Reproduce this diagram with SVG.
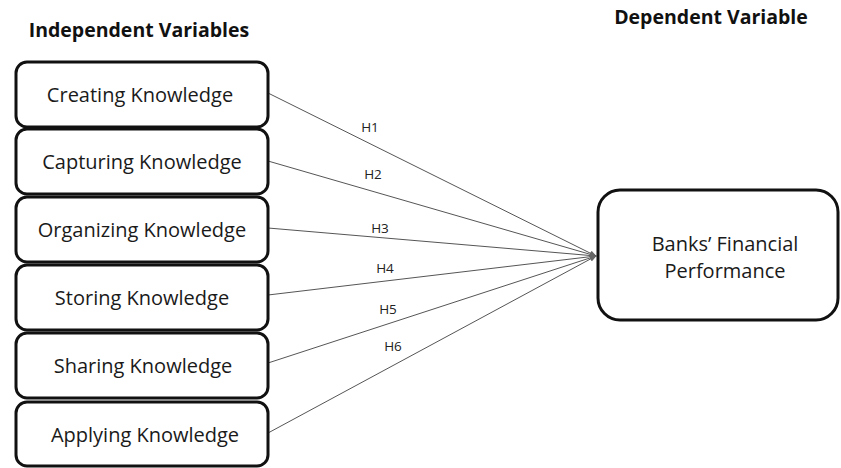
<svg xmlns="http://www.w3.org/2000/svg" width="841" height="468" viewBox="0 0 841 468">
<style>
.box{fill:#fff;stroke:#111;stroke-width:3}
.t{font-family:"Open Sans","Liberation Sans",sans-serif;font-size:20px;fill:#1a1a1a;text-anchor:middle}
.h{font-family:"Open Sans","Liberation Sans",sans-serif;font-size:19.5px;font-weight:bold;fill:#111;text-anchor:middle}
.l{font-family:"Open Sans","Liberation Sans",sans-serif;font-size:13.5px;fill:#222;text-anchor:middle}
.c{stroke:#555;stroke-width:1;fill:none;marker-end:url(#a)}
</style>
<defs>
<marker id="a" viewBox="0 0 10 10" refX="9" refY="5" markerWidth="7" markerHeight="7" orient="auto" markerUnits="userSpaceOnUse">
<path d="M0,1 L10,5 L0,9 z" fill="#666"/>
</marker>
</defs>
<text class="h" x="139" y="37">Independent Variables</text>
<text class="h" x="711" y="24">Dependent Variable</text>
<g id="connectors">
<line class="c" x1="268" y1="93" x2="596" y2="256"/>
<line class="c" x1="268" y1="161" x2="596" y2="256"/>
<line class="c" x1="268" y1="228" x2="596" y2="256"/>
<line class="c" x1="268" y1="295" x2="596" y2="256"/>
<line class="c" x1="268" y1="363" x2="596" y2="256"/>
<line class="c" x1="268" y1="433" x2="596" y2="256"/>
<text class="l" x="370" y="132">H1</text>
<text class="l" x="373" y="179">H2</text>
<text class="l" x="380" y="233">H3</text>
<text class="l" x="385" y="273">H4</text>
<text class="l" x="388" y="314">H5</text>
<text class="l" x="393" y="351">H6</text>
</g>
<g id="n1"><rect class="box" x="16" y="62" width="252" height="65" rx="11"/><text class="t" x="140" y="102">Creating Knowledge</text></g>
<g id="n2"><rect class="box" x="16" y="129" width="252" height="65" rx="11"/><text class="t" x="142" y="169">Capturing Knowledge</text></g>
<g id="n3"><rect class="box" x="16" y="197" width="252" height="65" rx="11"/><text class="t" x="142" y="237">Organizing Knowledge</text></g>
<g id="n4"><rect class="box" x="16" y="265" width="252" height="65" rx="11"/><text class="t" x="142" y="305">Storing Knowledge</text></g>
<g id="n5"><rect class="box" x="16" y="333" width="252" height="65" rx="11"/><text class="t" x="143" y="373">Sharing Knowledge</text></g>
<g id="n6"><rect class="box" x="16" y="402" width="252" height="64" rx="11"/><text class="t" x="145" y="442">Applying Knowledge</text></g>
<g id="n7"><rect class="box" x="598" y="190" width="240" height="130" rx="22"/><text class="t" x="725" y="251">Banks’ Financial</text><text class="t" x="725" y="278">Performance</text></g>
</svg>
